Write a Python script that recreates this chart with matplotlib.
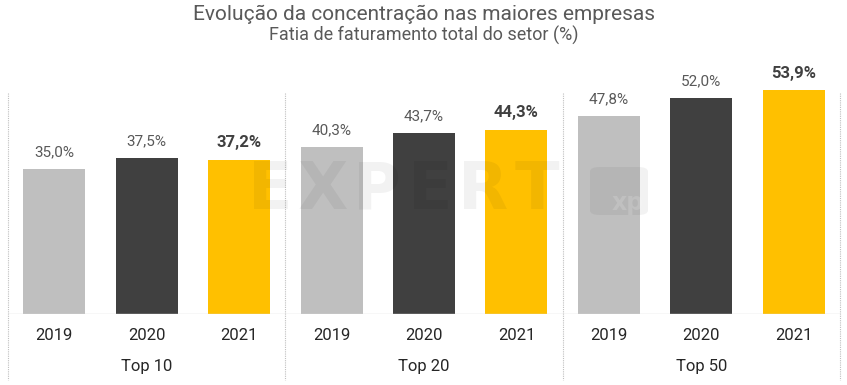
import matplotlib
matplotlib.use("Agg")
from matplotlib import pyplot as plt
from matplotlib.patches import FancyBboxPatch

plt.rcParams['font.family'] = ['Roboto', 'DejaVu Sans']

groups = ["Top 10", "Top 20", "Top 50"]
years = ["2019", "2020", "2021"]
v2019 = [35.0, 40.3, 47.8]
v2020 = [37.5, 43.7, 52.0]
v2021 = [37.2, 44.3, 53.9]

colors = {"2019": "#BFBFBF", "2020": "#404040", "2021": "#FFC000"}
series = {"2019": v2019, "2020": v2020, "2021": v2021}

fig = plt.figure(figsize=(8.47, 3.85), dpi=100)
ax = fig.add_axes([8 / 847, 71 / 385, 832 / 847, 254 / 385])

# titulo
fig.text(0.5, 1 - 14 / 385, "Evolução da concentração nas maiores empresas",
         ha="center", va="center", fontsize=15, color="#595959")
fig.text(0.5, 1 - 35 / 385, "Fatia de faturamento total do setor (%)",
         ha="center", va="center", fontsize=13, color="#595959")

# marca d'agua
for k, ch in enumerate("EXPERT"):
    fig.text((270 + 53.3 * k) / 847, 1 - 191 / 385, ch, ha="center", va="center",
             fontsize=47, fontweight="bold", family="DejaVu Sans", color="#000000", alpha=0.05)
fig.patches.append(FancyBboxPatch((590 / 847, 1 - 215 / 385), 58 / 847, 48 / 385,
                                  boxstyle="round,pad=0,rounding_size=0.012",
                                  transform=fig.transFigure, fc="#000000", alpha=0.05, ec="none"))
fig.text(628 / 847, 1 - 203 / 385, "xp", ha="center", va="center",
         fontsize=17, fontweight="bold", family="DejaVu Sans", color="#FFFFFF", alpha=0.15)

for g, grp in enumerate(groups):
    for j, yr in enumerate(years):
        x = g * 3 + j
        val = series[yr][g]
        ax.bar(x, val, width=0.67, color=colors[yr], zorder=2, clip_on=False)
        label = f"{val:.1f}%".replace(".", ",")
        if yr == "2021":
            ax.annotate(label, (x, val), xytext=(0, 7), textcoords="offset points",
                        ha="center", va="bottom", fontsize=12, fontweight="bold", color="#404040")
        else:
            ax.annotate(label, (x, val), xytext=(0, 7), textcoords="offset points",
                        ha="center", va="bottom", fontsize=11, color="#595959")
        ax.text(x, -(336 - 314) / 254, yr, transform=ax.get_xaxis_transform(),
                ha="center", va="center", fontsize=12, color="#262626")
    ax.text(g * 3 + 1, -(367 - 314) / 254, grp, transform=ax.get_xaxis_transform(),
            ha="center", va="center", fontsize=12, color="#262626")

# divisorias
for xb in [-0.5, 2.5, 5.5, 8.5]:
    ax.plot([xb, xb], [(314 - 93) / 254, -(380 - 314) / 254], transform=ax.get_xaxis_transform(),
            color="#BFBFBF", lw=0.8, ls=(0, (1, 1)), clip_on=False, zorder=1)
ax.axhline(0, color="#D9D9D9", lw=1, zorder=3)

ax.set_xlim(-0.5, 8.5)
ax.set_ylim(0, 254 / 4.15)
ax.axis("off")

plt.savefig("out.png", dpi=100)
